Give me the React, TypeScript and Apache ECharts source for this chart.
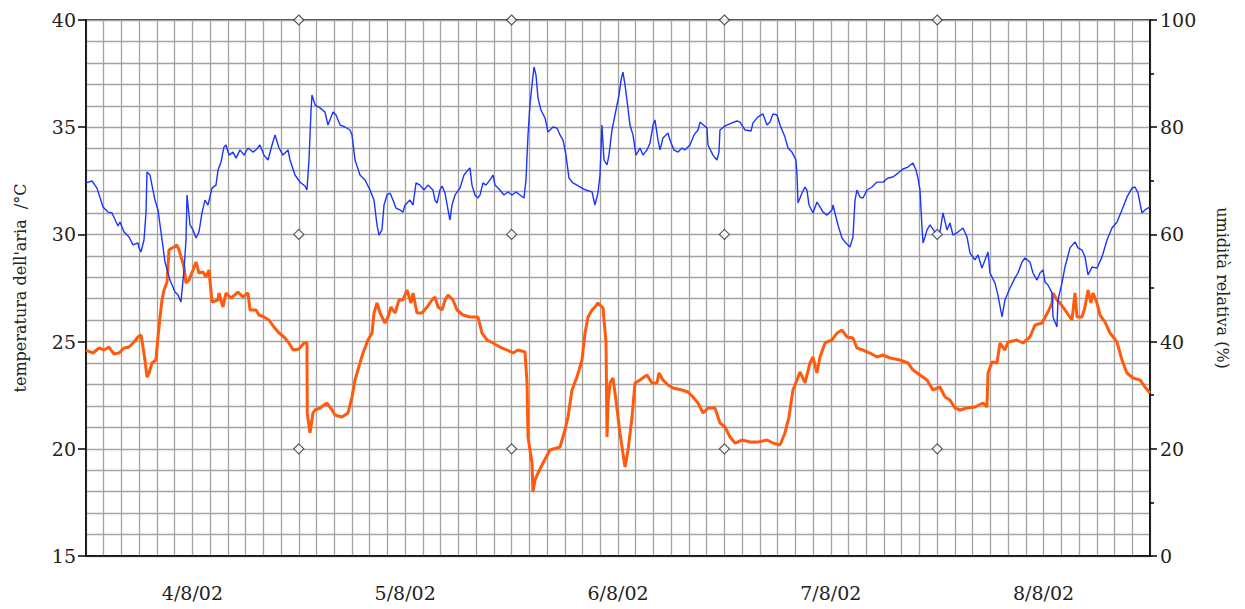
import React, { useEffect, useRef } from "react";
import * as echarts from "echarts";

// Time axis: hours from 4/8/02 00:00
const dayLabels = ["4/8/02", "5/8/02", "6/8/02", "7/8/02", "8/8/02"];

// Air temperature (°C) – blue line
const tempHours = [
  0, 0.68, 1.24, 1.92, 2.48, 2.93, 3.61, 3.83, 4.29, 4.85, 5.3, 5.86, 5.98, 6.2, 6.54, 6.77, 6.88, 7.22, 7.44, 7.78,
  8.12, 8.46, 8.91, 9.47, 10.04, 10.38, 10.71, 11.05, 11.28, 11.39, 11.73, 12.07, 12.41, 12.74, 13.08, 13.42, 13.76,
  14.21, 14.66, 14.89, 15.23, 15.56, 15.79, 16.13, 16.58, 16.92, 17.37, 17.82, 18.27, 18.83, 19.17, 19.62, 20.07,
  20.53, 20.98, 21.32, 21.77, 22.22, 22.78, 23.01, 23.57, 24.13, 24.7, 24.92, 25.15, 25.38, 25.49, 25.83, 26.39,
  26.95, 27.29, 27.86, 28.2, 28.65, 29.21, 29.77, 30.0, 30.34, 30.9, 31.47, 32.03, 32.48, 32.82, 33.04, 33.38, 33.61,
  33.95, 34.29, 34.62, 34.96, 35.41, 35.75, 35.98, 36.54, 36.88, 37.22, 37.67, 38.12, 38.57, 39.13, 39.36, 39.59,
  39.92, 40.15, 40.49, 40.83, 41.05, 41.28, 41.62, 42.18, 42.63, 43.08, 43.31, 43.53, 43.87, 44.21, 44.44, 44.77,
  45.11, 45.56, 45.9, 46.13, 46.69, 47.14, 47.59, 48.04, 48.5, 48.95, 49.4, 49.62, 49.85, 50.07, 50.3, 50.53, 50.75,
  50.98, 51.31, 51.77, 52.1, 52.33, 52.67, 53.12, 53.46, 53.8, 54.13, 54.47, 54.92, 55.37, 55.94, 56.39, 57.07, 57.4,
  57.74, 57.97, 58.19, 58.42, 58.76, 58.98, 59.32, 59.55, 59.77, 60.11, 60.34, 60.56, 60.79, 61.01, 61.35, 61.69,
  62.03, 62.48, 62.82, 63.27, 63.61, 63.95, 64.17, 64.51, 64.74, 65.07, 65.64, 65.86, 66.31, 66.76, 67.22, 67.55,
  68.12, 68.57, 69.02, 69.25, 70.04, 70.15, 70.71, 71.16, 71.39, 71.5, 72.07, 72.86, 73.42, 73.76, 74.32, 75.0,
  75.22, 75.79, 76.35, 76.8, 77.14, 77.48, 77.93, 78.27, 78.83, 79.17, 79.62, 80.07, 80.19, 80.3, 80.75, 81.09,
  81.31, 81.54, 81.99, 82.44, 82.78, 83.12, 83.57, 84.13, 84.25, 84.47, 84.81, 85.26, 85.6, 86.16, 86.5, 86.73,
  86.95, 87.29, 87.63, 88.08, 88.64, 89.21, 89.89, 90.45, 91.01, 91.58, 92.14, 92.7, 93.27, 93.61, 93.83, 94.06,
  94.28, 94.4, 94.62, 94.85, 95.19, 95.75, 96.31, 96.65, 97.1, 97.44, 97.78, 98.34, 98.91, 99.36, 99.7, 100.26,
  100.6, 101.05, 101.39, 101.73, 101.95, 102.52, 102.85, 103.31, 103.64, 104.21, 104.77, 105.11, 105.56, 105.9,
  106.46, 106.8, 107.25, 107.59, 107.93, 108.16, 108.49, 108.95, 109.06, 109.51, 109.62, 110.07, 110.41, 110.98,
  111.54, 111.88, 112.33, 112.67, 113.01, 113.46, 114.02, 114.59, 115.15, 115.71, 116.28, 116.84, 117.4, 117.97,
  118.31, 118.65, 119.09, 119.43, 120.0,
];
const tempValues = [
  32.4, 32.49, 32.16, 31.28, 31.04, 31.0, 30.39, 30.58, 30.11, 29.88, 29.51, 29.6, 29.37, 29.18, 29.74, 31.04, 32.91,
  32.77, 32.3, 31.6, 31.14, 30.11, 28.71, 27.87, 27.31, 27.17, 26.85, 28.34, 29.74, 31.84, 30.44, 30.21, 29.83, 30.11,
  31.0, 31.6, 31.37, 32.16, 32.3, 33.0, 33.38, 34.08, 34.17, 33.7, 33.84, 33.56, 33.94, 33.7, 34.03, 33.84, 33.94,
  34.17, 33.7, 33.47, 34.17, 34.64, 34.03, 33.7, 33.94, 33.47, 32.77, 32.44, 32.26, 32.07, 33.47, 35.8, 36.5, 36.04,
  35.9, 35.71, 35.1, 35.71, 35.57, 35.1, 35.01, 34.87, 34.64, 33.47, 32.77, 32.54, 32.07, 31.6, 30.44, 29.97, 30.21,
  31.37, 31.84, 31.93, 31.6, 31.23, 31.14, 31.04, 31.37, 31.6, 31.37, 32.4, 32.3, 32.07, 32.3, 32.07, 31.6, 31.46,
  32.07, 32.26, 31.93, 31.14, 30.67, 31.37, 31.84, 32.16, 32.77, 33.0, 33.1, 32.3, 31.84, 31.7, 31.84, 32.4, 32.3,
  32.54, 32.77, 32.3, 32.07, 31.84, 31.98, 31.84, 31.98, 31.84, 31.7, 32.54, 34.64, 36.04, 36.97, 37.81, 37.43,
  36.36, 35.8, 35.43, 34.78, 34.87, 35.01, 34.96, 34.64, 34.4, 33.7, 32.63, 32.4, 32.3, 32.16, 32.07, 31.98, 31.37,
  31.93, 32.77, 35.1, 33.47, 33.24, 33.7, 34.87, 35.34, 35.8, 36.5, 37.2, 37.57, 36.97, 36.27, 35.1, 34.64, 33.7,
  34.03, 33.7, 33.94, 34.26, 35.1, 35.34, 34.4, 33.94, 34.5, 34.73, 34.4, 33.94, 33.84, 34.03, 33.94, 34.17, 34.64,
  34.87, 35.24, 34.96, 34.17, 33.7, 33.47, 33.84, 34.87, 35.06, 35.2, 35.29, 35.24, 34.87, 34.82, 35.2, 35.48, 35.62,
  35.1, 35.24, 35.62, 35.57, 35.1, 34.54, 34.03, 33.84, 33.47, 32.77, 31.46, 31.93, 32.21, 32.07, 31.37, 31.0, 31.51,
  31.28, 31.04, 30.9, 31.14, 31.37, 31.0, 30.44, 29.83, 29.65, 29.41, 29.88, 31.6, 32.07, 31.74, 31.7, 32.07, 32.21,
  32.44, 32.44, 32.63, 32.68, 32.86, 33.05, 33.14, 33.33, 33.0, 32.63, 32.07, 30.35, 29.6, 29.88, 30.21, 30.44, 30.11,
  30.11, 31.0, 30.21, 30.53, 29.97, 30.11, 30.3, 29.88, 29.13, 28.81, 29.04, 28.43, 28.81, 29.18, 28.2, 27.73, 27.17,
  26.15, 26.94, 27.5, 27.97, 28.2, 28.71, 28.9, 28.71, 28.2, 27.87, 28.2, 28.34, 27.78, 27.64, 27.27, 26.15, 25.68,
  26.94, 27.73, 28.48, 29.37, 29.65, 29.37, 29.27, 28.95, 28.11, 28.48, 28.43, 28.95, 29.74, 30.3, 30.58, 31.14,
  31.74, 32.16, 32.21, 31.93, 31.0, 31.14, 31.28,
];

// Relative humidity (%) – orange line
const humHours = [
  0, 0.79, 1.47, 2.03, 2.59, 3.16, 3.72, 4.29, 4.85, 5.41, 5.86, 6.2, 6.43, 6.65, 6.88, 7.11, 7.44, 7.89, 8.12, 8.35,
  8.57, 8.8, 9.14, 9.36, 9.7, 9.92, 10.26, 10.49, 10.83, 11.05, 11.28, 11.62, 12.07, 12.41, 12.74, 13.2, 13.53, 13.87,
  14.21, 14.89, 15.0, 15.45, 15.79, 16.35, 17.14, 17.71, 18.27, 18.5, 19.17, 19.51, 20.07, 20.64, 21.2, 21.77, 22.33,
  22.89, 23.35, 24.02, 24.59, 24.92, 24.95, 25.26, 25.6, 25.83, 26.39, 27.18, 27.74, 28.08, 28.87, 29.55, 30.0, 30.34,
  30.9, 31.24, 31.8, 32.26, 32.48, 32.82, 33.16, 33.72, 34.06, 34.4, 34.85, 35.3, 35.75, 36.2, 36.65, 36.88, 37.33,
  37.89, 38.46, 39.02, 39.36, 39.7, 40.15, 40.49, 40.83, 41.39, 41.84, 42.52, 43.31, 44.21, 44.66, 45.22, 45.9, 46.69,
  47.48, 48.16, 48.72, 49.51, 49.74, 49.85, 50.3, 50.41, 50.64, 50.98, 51.54, 52.33, 53.46, 54.02, 54.36, 54.81,
  55.37, 55.94, 56.28, 56.62, 57.07, 57.4, 57.74, 58.31, 58.65, 58.76, 58.87, 59.1, 59.43, 59.77, 60.22, 60.79, 61.13,
  61.58, 61.92, 62.48, 63.27, 63.83, 64.4, 64.62, 65.07, 65.64, 66.2, 67.22, 67.89, 68.46, 69.02, 69.59, 70.15, 70.94,
  71.5, 72.07, 72.63, 73.2, 73.98, 74.89, 75.79, 76.8, 77.48, 78.27, 78.83, 79.28, 79.73, 80.19, 80.52, 81.09, 81.65,
  81.99, 82.44, 82.78, 83.35, 84.13, 84.7, 85.26, 85.82, 86.5, 86.95, 87.63, 88.42, 89.21, 89.89, 90.68, 91.8, 92.7,
  93.27, 94.06, 94.85, 95.52, 96.31, 96.88, 97.44, 98.0, 98.57, 99.36, 100.26, 101.16, 101.61, 101.73, 102.18,
  102.74, 103.08, 103.64, 103.98, 105.0, 105.67, 106.46, 107.03, 107.82, 108.49, 108.95, 109.06, 109.51, 109.85,
  110.41, 111.2, 111.54, 111.77, 112.33, 112.67, 113.01, 113.34, 113.57, 114.02, 114.36, 114.92, 115.49, 116.28,
  116.84, 117.4, 118.08, 118.87, 119.43, 120.0,
];
const humValues = [
  38.43, 37.87, 38.81, 38.43, 38.99, 37.68, 37.87, 38.81, 38.99, 39.92, 40.86, 41.23, 38.99, 36.57, 33.39, 34.14,
  36.01, 36.57, 40.86, 44.59, 47.76, 49.63, 51.12, 57.09, 57.46, 57.65, 58.02, 57.09, 55.22, 53.92, 50.93, 51.49,
  53.36, 54.85, 52.8, 52.98, 52.05, 53.36, 47.39, 47.76, 49.07, 46.45, 49.07, 48.13, 49.25, 48.32, 49.07, 45.9, 45.9,
  44.96, 44.59, 44.03, 42.72, 41.6, 40.86, 39.74, 38.43, 38.62, 39.74, 39.74, 26.68, 22.95, 26.68, 27.24, 27.61, 28.54,
  27.24, 26.3, 25.93, 26.68, 29.66, 32.84, 36.01, 37.87, 40.3, 41.6, 45.34, 47.2, 45.34, 43.47, 44.59, 46.45, 45.34,
  47.76, 47.76, 49.63, 47.2, 49.07, 45.34, 45.34, 46.45, 47.76, 48.32, 46.45, 45.9, 47.76, 48.69, 47.76, 45.9, 44.96,
  44.59, 44.59, 41.6, 40.3, 39.74, 38.99, 38.43, 37.87, 38.43, 38.06, 32.28, 22.2, 17.35, 11.94, 14.18, 15.48, 17.35,
  19.78, 20.33, 23.51, 25.93, 30.97, 33.39, 36.57, 41.6, 44.59, 45.9, 46.45, 47.2, 46.27, 39.74, 22.2, 28.54, 32.28,
  33.21, 29.1, 22.95, 16.6, 19.78, 25.93, 32.28, 32.84, 33.77, 32.28, 32.28, 34.14, 32.84, 31.9, 31.34, 30.97, 30.6,
  29.66, 28.54, 26.68, 27.61, 27.61, 24.81, 24.07, 22.2, 21.08, 21.64, 21.27, 21.27, 21.64, 21.08, 20.71, 22.95,
  25.93, 30.97, 32.84, 34.33, 32.28, 36.01, 37.13, 34.14, 37.13, 39.74, 40.3, 41.6, 42.16, 40.86, 40.67, 38.81, 38.43,
  37.87, 37.13, 37.5, 36.94, 36.57, 36.01, 34.7, 33.77, 32.84, 30.97, 31.53, 29.66, 29.1, 27.61, 27.24, 27.61, 27.8,
  28.54, 27.8, 34.14, 36.19, 36.01, 39.74, 38.43, 39.92, 40.3, 39.74, 40.86, 43.1, 43.47, 45.52, 47.2, 49.07, 47.76,
  47.2, 45.9, 44.03, 49.07, 44.59, 44.59, 46.45, 49.63, 47.2, 49.07, 47.2, 44.96, 43.66, 41.6, 39.92, 36.57, 34.14,
  33.21, 32.84, 31.53, 30.41,
];

// Diamond reference markers (day boundaries × temperature levels)
const markerHours = [24, 48, 72, 96];
const markerTemps = [20, 30, 40];

const FONT = "DejaVu Serif";

export default function App() {
  const ref = useRef<HTMLDivElement>(null);

  useEffect(() => {
    if (!ref.current) return;
    const chart = echarts.init(ref.current, undefined, { renderer: "svg" });

    const tempData = tempHours.map((h, i) => [h, tempValues[i]]);
    const humData = humHours.map((h, i) => [h, humValues[i]]);
    const markers: number[][] = [];
    markerTemps.forEach((t) => markerHours.forEach((h) => markers.push([h, t])));

    const gridLine = { show: true, lineStyle: { color: "#a3a3a3", width: 1.3 } };

    chart.setOption({
      animation: false,
      backgroundColor: "#ffffff",
      grid: {
        left: 86,
        right: 95,
        top: 20,
        bottom: 53,
        show: true,
        borderColor: "#000",
        borderWidth: 1.5,
        backgroundColor: "transparent",
      },
      xAxis: {
        type: "value",
        min: 0,
        max: 120,
        interval: 12,
        axisLine: { show: true, onZero: false, lineStyle: { color: "#000", width: 1.5 } },
        axisTick: { show: false },
        splitLine: gridLine,
        minorTick: { show: false, splitNumber: 6 },
        minorSplitLine: gridLine,
        axisLabel: {
          margin: 27,
          fontFamily: FONT,
          fontSize: 19,
          color: "#222",
          formatter: (v: number) => {
            const r = v % 24;
            if (Math.abs(r - 12) < 0.01) return dayLabels[Math.floor(v / 24)] ?? "";
            return "";
          },
        },
      },
      yAxis: [
        {
          type: "value",
          min: 15,
          max: 40,
          interval: 5,
          position: "left",
          name: "temperatura dell'aria  /°C",
          nameLocation: "middle",
          nameGap: 58,
          nameTextStyle: { fontFamily: FONT, fontSize: 16, color: "#222" },
          axisLine: { show: true, lineStyle: { color: "#000", width: 1.5 } },
          axisTick: { show: true, length: 8, lineStyle: { color: "#000", width: 1.5 } },
          splitLine: gridLine,
          minorTick: { show: false, splitNumber: 5 },
          minorSplitLine: gridLine,
          axisLabel: { margin: 10, fontFamily: FONT, fontSize: 19, color: "#222" },
        },
        {
          type: "value",
          min: 0,
          max: 100,
          interval: 20,
          position: "right",
          name: "umidità relativa (%)",
          nameLocation: "middle",
          nameRotate: -90,
          nameGap: 64,
          nameTextStyle: { fontFamily: FONT, fontSize: 16, color: "#222" },
          axisLine: { show: true, lineStyle: { color: "#000", width: 1.5 } },
          axisTick: { show: true, length: 7, lineStyle: { color: "#000", width: 1.5 } },
          minorTick: { show: true, splitNumber: 2, length: 4, lineStyle: { color: "#000", width: 1.5 } },
          splitLine: { show: false },
          axisLabel: { margin: 10, fontFamily: FONT, fontSize: 19, color: "#222" },
        },
      ],
      series: [
        {
          name: "umidità relativa",
          type: "line",
          yAxisIndex: 1,
          data: humData,
          symbol: "none",
          lineStyle: { color: "#ff5a0d", width: 3 },
          z: 3,
        },
        {
          name: "temperatura",
          type: "line",
          yAxisIndex: 0,
          data: tempData,
          symbol: "none",
          lineStyle: { color: "#1a35ff", width: 1.4 },
          z: 4,
        },
        {
          name: "riferimenti",
          type: "scatter",
          yAxisIndex: 0,
          data: markers,
          symbol: "diamond",
          symbolSize: 10,
          clip: false,
          itemStyle: { color: "#ffffff", borderColor: "#333", borderWidth: 1.2 },
          z: 5,
        },
      ],
    });

    return () => chart.dispose();
  }, []);

  return (
    <div
      ref={ref}
      style={{ position: "fixed", left: 0, top: 0, width: 1245, height: 609, background: "#fff" }}
    />
  );
}
